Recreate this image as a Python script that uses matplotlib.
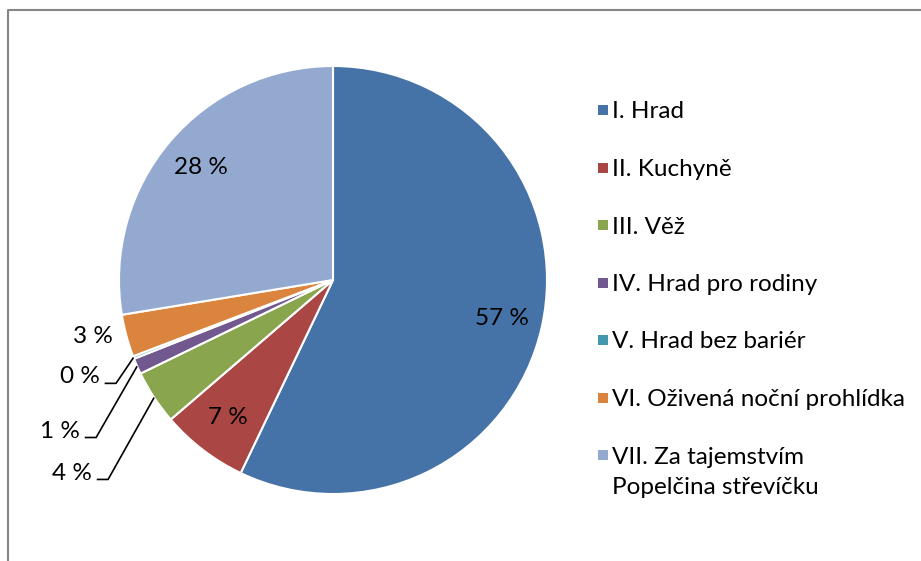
import numpy as np
import matplotlib
matplotlib.use("Agg")
import matplotlib.pyplot as plt
from matplotlib.lines import Line2D
from matplotlib.patches import Rectangle

plt.rcParams['font.family'] = ['Lato', 'DejaVu Sans']

# data
kategorie = ["I. Hrad", "II. Kuchyně", "III. Věž", "IV. Hrad pro rodiny",
             "V. Hrad bez bariér", "VI. Oživená noční prohlídka",
             "VII. Za tajemstvím\nPopelčina střevíčku"]
podil = [57.1, 6.6, 4.1, 1.2, 0.2, 3.2, 27.6]
barvy = ["#4572A7", "#AA4643", "#89A54E", "#71588F", "#4198AF", "#DB843D", "#93A9CF"]

# kde jsou popisky (uvnitr / vne vysece)
uvnitr = [0, 1, 6]
vne = {2: (-1.126, -0.902), 3: (-1.182, -0.706), 4: (-1.089, -0.453), 5: (-1.028, -0.262)}
s_carou = [2, 3, 4]

W, H = 921, 561
fig = plt.figure(figsize=(W / 100, H / 100), dpi=100)
ax = fig.add_axes([0, 0, 1, 1])

wedges, _ = ax.pie(podil, colors=barvy, startangle=90, counterclock=False,
                   radius=1, wedgeprops=dict(edgecolor="white", linewidth=1.5))

# 1 jednotka = 214 px, stred kolace na (333, 280)
ax.set_xlim(-333 / 214, (W - 333) / 214)
ax.set_ylim(-(H - 280) / 214, 280 / 214)
ax.set_aspect("auto")
ax.axis("off")

fs = 17.5
for i, w in enumerate(wedges):
    uhel = np.deg2rad((w.theta1 + w.theta2) / 2)
    txt = f"{podil[i]:.0f} %"
    if i in uvnitr:
        r = 0.81
        ax.text(r * np.cos(uhel), r * np.sin(uhel), txt, ha="center", va="center",
                fontsize=fs, color="black")
    else:
        x, y = vne[i]
        ax.text(x, y, txt, ha="right", va="center", fontsize=fs, color="black")
        if i in s_carou:
            xs = [x + 0.022, x + 0.075, np.cos(uhel)]
            ys = [y - 0.03, y - 0.03, np.sin(uhel)]
            ax.plot(xs, ys, color="black", lw=1.2, solid_capstyle="butt")

# legenda
for i, (k, c) in enumerate(zip(kategorie, barvy)):
    yc = 1 - (110 + i * 57.5) / H
    fig.add_artist(Rectangle((598 / W, yc - 5 / H), 10 / W, 10 / H,
                             transform=fig.transFigure, facecolor=c, edgecolor="none"))
    for j, radek in enumerate(k.split("\n")):
        fig.text(612 / W, yc - (8.5 + j * 31) / H, radek, ha="left", va="baseline",
                 fontsize=fs)

# ramecek
fig.add_artist(Line2D([7.5 / W, 7.5 / W, 1], [0, 1 - 10 / H, 1 - 10 / H],
                      transform=fig.transFigure, color="#868686", lw=1.5))

fig.savefig("out.png", dpi=100)
